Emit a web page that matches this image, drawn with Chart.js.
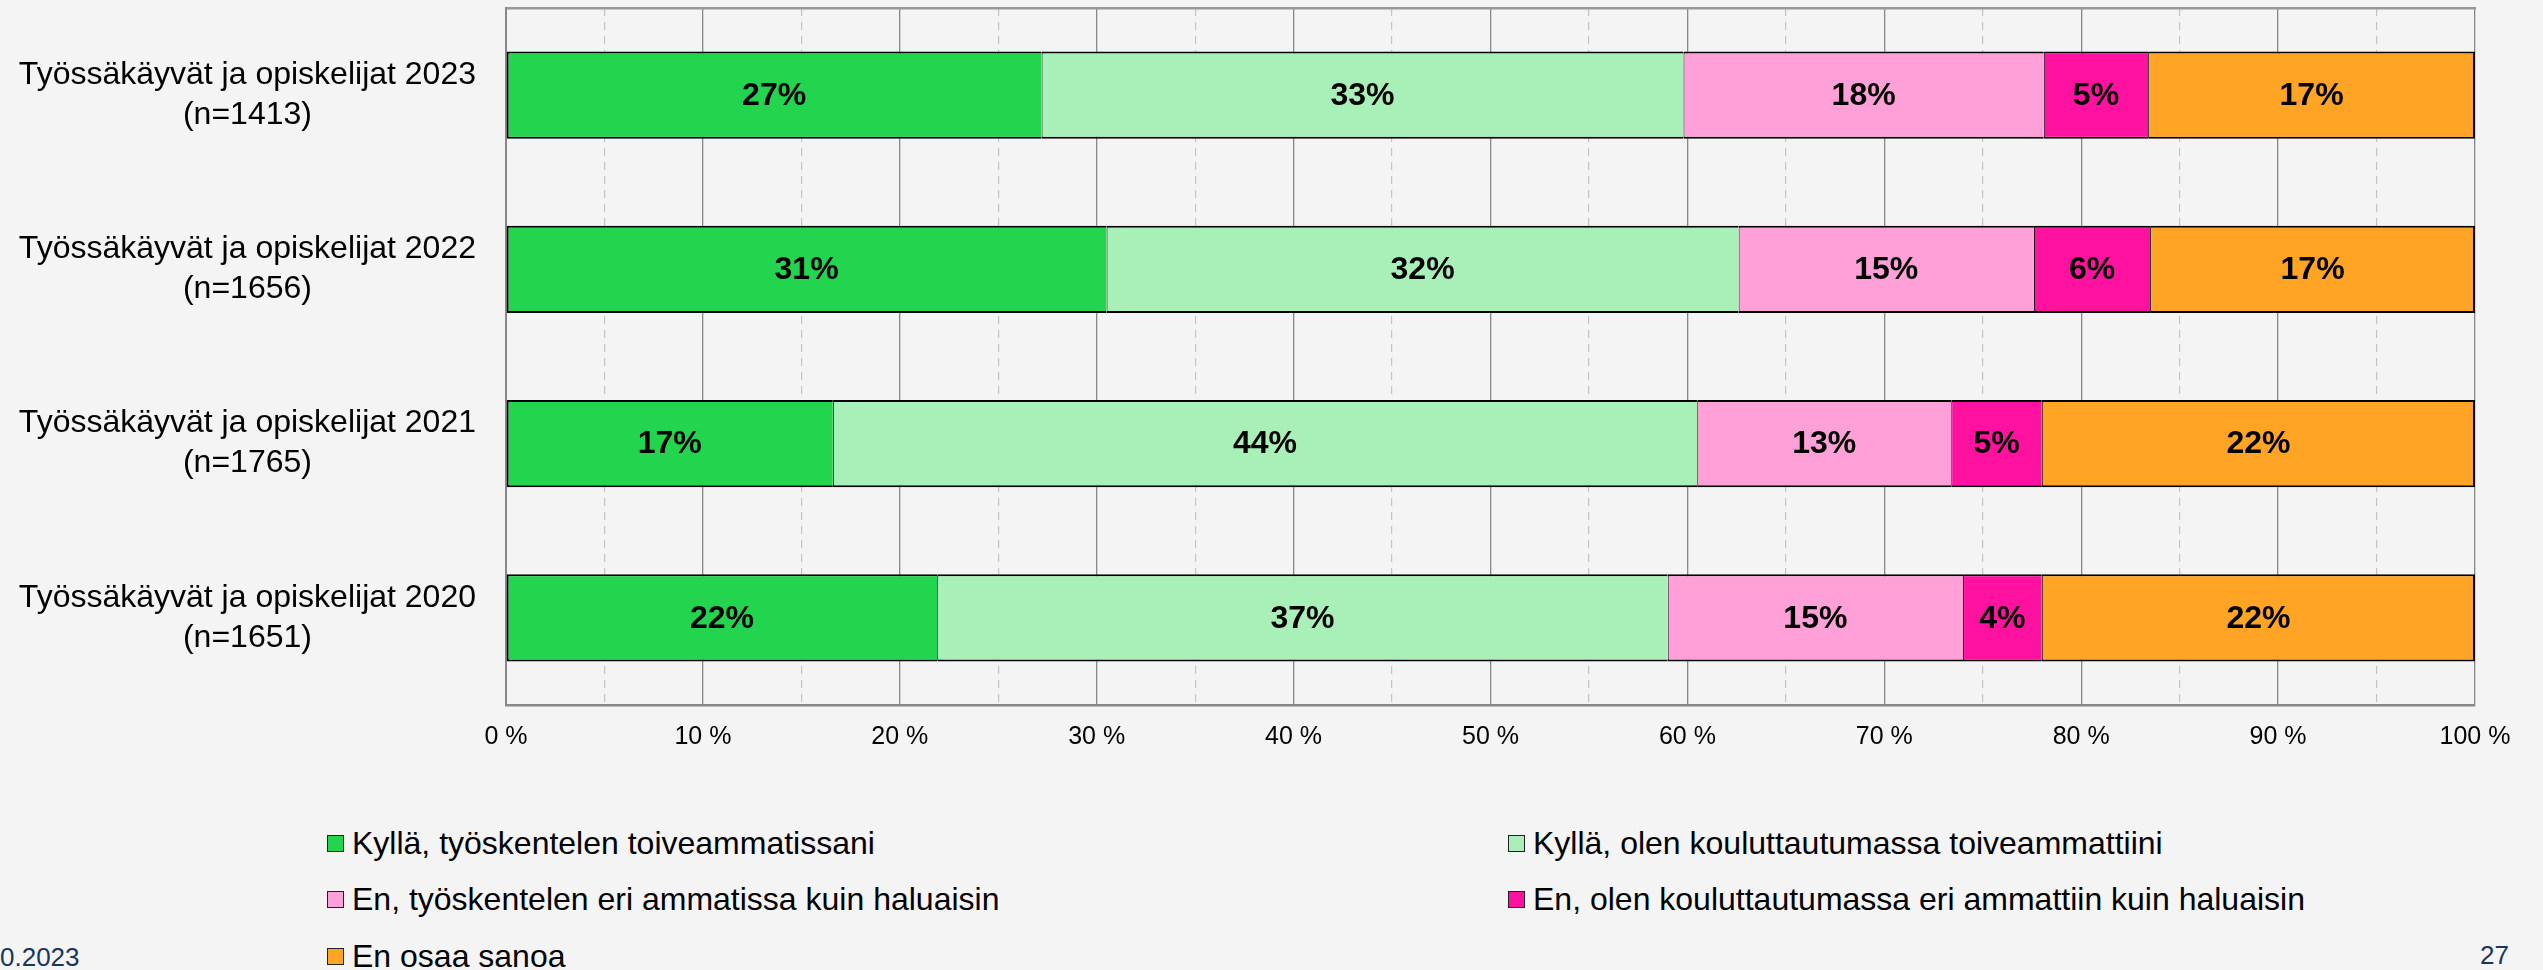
<!DOCTYPE html>
<html>
<head>
<meta charset="utf-8">
<script src="https://cdn.jsdelivr.net/npm/chart.js@4.4.1/dist/chart.umd.min.js"></script>
<style>
  html, body { margin: 0; padding: 0; background: #f4f4f4; }
  body { width: 2543px; height: 970px; position: relative; overflow: hidden;
         font-family: "Liberation Sans", Arial, sans-serif; }
  #wrap { position: absolute; left: 0; top: 0; width: 2543px; height: 770px; }
  .leg { position: absolute; display: flex; align-items: center; font-size: 32px; color: #000; white-space: nowrap; }
  .leg .box { width: 15px; height: 15px; border: 1.5px solid #222; margin-right: 8px; }
  .foot { position: absolute; font-size: 26px; color: #17375e; line-height: 30px; }
</style>
</head>
<body>
<div id="wrap"><canvas id="c"></canvas></div>
<div id="legend"></div>
<div class="foot" style="left:0; top:942px;">0.2023</div>
<div class="foot" style="left:2480px; top:940px;">27</div>
<script>
const categories = [
  ['Työssäkäyvät ja opiskelijat 2023', '(n=1413)'],
  ['Työssäkäyvät ja opiskelijat 2022', '(n=1656)'],
  ['Työssäkäyvät ja opiskelijat 2021', '(n=1765)'],
  ['Työssäkäyvät ja opiskelijat 2020', '(n=1651)']
];
const seriesNames = [
  'Kyllä, työskentelen toiveammatissani',
  'Kyllä, olen kouluttautumassa toiveammattiini',
  'En, työskentelen eri ammatissa kuin haluaisin',
  'En, olen kouluttautumassa eri ammattiin kuin haluaisin',
  'En osaa sanoa'
];
const seriesColors = ['#23d44f', '#a8f0b8', '#ffa0d8', '#ff12a0', '#ffa424'];
const kyllaTyo       = [27.2, 30.5, 16.6, 21.9];
const kyllaKoulutus  = [32.6, 32.1, 43.9, 37.1];
const enTyo          = [18.3, 15.0, 12.9, 15.0];
const enKoulutus     = [5.3, 5.9, 4.6, 4.0];
const enOsaa         = [16.6, 16.5, 22.0, 22.0];
const seriesValues = [kyllaTyo, kyllaKoulutus, enTyo, enKoulutus, enOsaa];
const tickLabels = ['0 %', '10 %', '20 %', '30 %', '40 %', '50 %', '60 %', '70 %', '80 %', '90 %', '100 %'];
const minorTicks = [5, 15, 25, 35, 45, 55, 65, 75, 85, 95];

const FONT = '"Liberation Sans", Arial, sans-serif';

const datasets = seriesValues.map((vals, i) => ({
  label: seriesNames[i],
  data: vals,
  backgroundColor: seriesColors[i],
  borderColor: '#000',
  borderWidth: { top: 2, bottom: 2, left: i === 0 ? 2 : 1, right: i === seriesValues.length - 1 ? 2 : 0 },
  borderSkipped: false,
  barPercentage: 0.5,
  categoryPercentage: 1.0
}));

const valueLabels = {
  id: 'valueLabels',
  afterDatasetsDraw(chart) {
    const ctx = chart.ctx;
    ctx.save();
    ctx.font = 'bold 32px ' + FONT;
    ctx.fillStyle = '#000';
    ctx.textAlign = 'center';
    ctx.textBaseline = 'middle';
    chart.data.datasets.forEach((ds, di) => {
      const meta = chart.getDatasetMeta(di);
      meta.data.forEach((el, j) => {
        const v = ds.data[j];
        const cx = (el.x + el.base) / 2;
        ctx.fillText(Math.round(v) + '%', cx, el.y + 1);
      });
    });
    ctx.restore();
  }
};

function zeroPad(s) { s.paddingTop = 0; s.paddingBottom = 0; s.paddingLeft = 0; s.paddingRight = 0; }

new Chart(document.getElementById('c'), {
  type: 'bar',
  data: { labels: categories, datasets },
  plugins: [valueLabels],
  options: {
    indexAxis: 'y',
    responsive: true,
    maintainAspectRatio: false,
    animation: false,
    layout: { padding: { left: 0, right: 68, top: 8, bottom: 18 } },
    plugins: { legend: { display: false }, tooltip: { enabled: false } },
    scales: {
      x: {
        type: 'linear', stacked: true, min: 0, max: 100, position: 'bottom',
        ticks: {
          stepSize: 10, padding: 17, color: '#000',
          font: { family: FONT, size: 25 },
          callback: (v, i) => tickLabels[i]
        },
        grid: { color: '#888', lineWidth: 1.3, drawTicks: false },
        border: { display: true, color: '#888', width: 2.5 },
        afterFit: (s) => { s.height = 47; zeroPad(s); }
      },
      x2: {
        type: 'linear', min: 0, max: 100, position: 'bottom',
        afterBuildTicks: (s) => { s.ticks = minorTicks.map(v => ({ value: v })); },
        ticks: { display: false },
        grid: { color: '#c4c4c4', lineWidth: 1.2, drawTicks: false },
        border: { display: false, dash: [8, 6] },
        afterFit: (s) => { s.height = 0; zeroPad(s); }
      },
      xTop: {
        type: 'linear', min: 0, max: 100, position: 'top',
        ticks: { display: false },
        grid: { display: false, drawTicks: false },
        border: { display: true, color: '#999', width: 2.5 },
        afterFit: (s) => { s.height = 0; zeroPad(s); }
      },
      y: {
        stacked: true,
        grid: { display: false, drawTicks: false },
        border: { display: true, color: '#888', width: 2 },
        ticks: {
          crossAlign: 'center', padding: 30, color: '#000',
          font: { family: FONT, size: 32, lineHeight: 1.25 }
        },
        afterFit: (s) => { s.width = 506; zeroPad(s); }
      }
    }
  }
});

// HTML legend built from the series arrays
const legendPos = [[327, 843], [1508, 843], [327, 899], [1508, 899], [327, 956]];
const legendEl = document.getElementById('legend');
seriesNames.forEach((name, i) => {
  const d = document.createElement('div');
  d.className = 'leg';
  d.style.left = legendPos[i][0] + 'px';
  d.style.top = (legendPos[i][1] - 19) + 'px';
  d.style.height = '38px';
  const b = document.createElement('span');
  b.className = 'box';
  b.style.background = seriesColors[i];
  const t = document.createElement('span');
  t.textContent = name;
  d.appendChild(b); d.appendChild(t);
  legendEl.appendChild(d);
});
</script>
</body>
</html>
